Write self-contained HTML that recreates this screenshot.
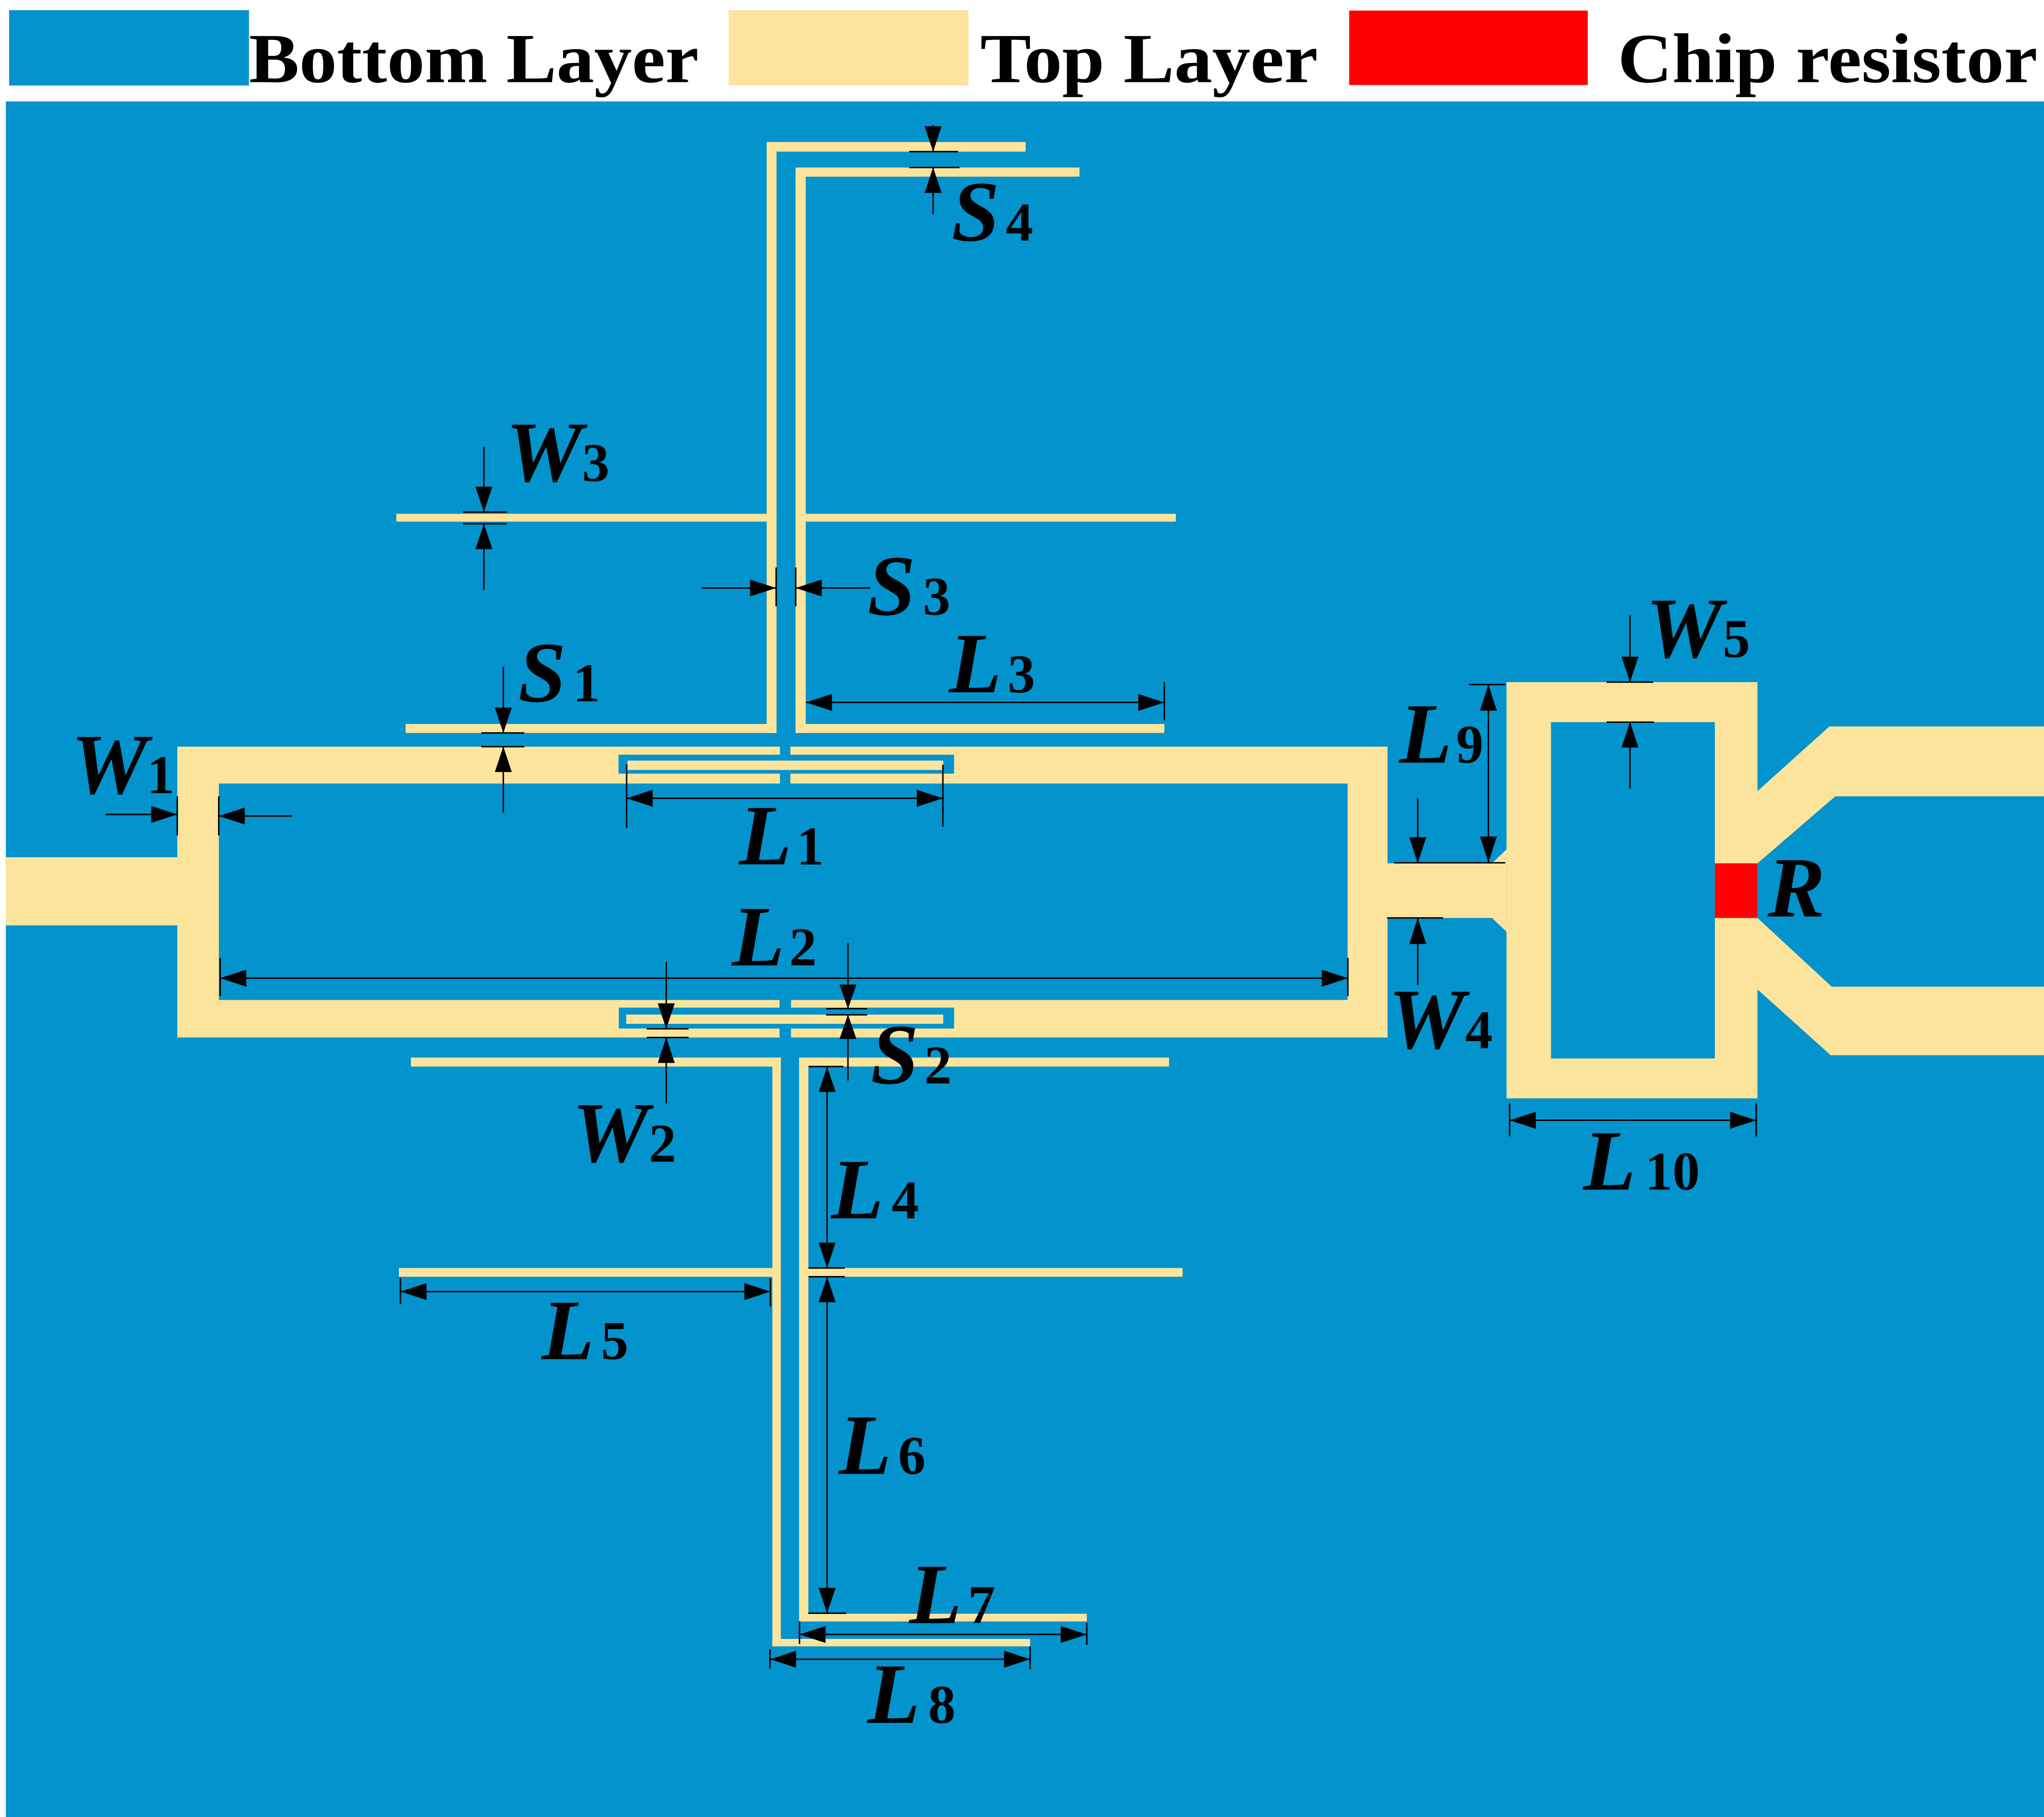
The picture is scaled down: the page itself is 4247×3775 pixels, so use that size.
<!DOCTYPE html>
<html>
<head>
<meta charset="utf-8">
<style>
  html, body { margin: 0; padding: 0; background: #ffffff; }
  svg { display: block; }
  .lbl { font-family: "Liberation Serif", "Times New Roman", serif; font-weight: bold; font-style: italic; font-size: 66px; fill: #000; }
  .sub { font-family: "Liberation Serif", "Times New Roman", serif; font-weight: bold; font-style: normal; font-size: 42px; fill: #000; }
  .leg { font-family: "Liberation Serif", "Times New Roman", serif; font-weight: bold; font-size: 54px; fill: #000; }
</style>
</head>
<body>
<svg width="4247" height="3775" viewBox="0 0 1568 1393.7" preserveAspectRatio="none" xmlns="http://www.w3.org/2000/svg">
  <!-- background -->
  <rect x="0" y="0" width="1568" height="1393.7" fill="#ffffff"/>
  <rect x="4.5" y="77.8" width="1563.5" height="1316" fill="#0393cd"/>

  <!-- legend -->
  <rect x="7" y="7.8" width="184" height="57.8" fill="#0393cd"/>
  <text class="leg" x="191" y="63" textLength="345" lengthAdjust="spacingAndGlyphs">Bottom Layer</text>
  <rect x="559" y="7.8" width="184" height="57.8" fill="#fde49c"/>
  <text class="leg" x="752" y="63" textLength="259" lengthAdjust="spacingAndGlyphs">Top Layer</text>
  <rect x="1035" y="8.1" width="183" height="57.1" fill="#ff0000"/>
  <text class="leg" x="1241" y="63" textLength="322" lengthAdjust="spacingAndGlyphs">Chip resistor</text>

  <g fill="#fde49c">
    <!-- left feed -->
    <rect x="4.5" y="657.5" width="131.5" height="52.3"/>
    <!-- main ring -->
    <rect x="136" y="572.7" width="928.4" height="223.1"/>
  </g>
  <rect x="167.9" y="601" width="865.9" height="166" fill="#0393cd"/>

  <!-- top coupled slot -->
  <rect x="474.5" y="578.9" width="257.4" height="14.5" fill="#0393cd"/>
  <rect x="598.3" y="572.7" width="8" height="28.3" fill="#0393cd"/>
  <rect x="481.4" y="583.4" width="242.2" height="7.2" fill="#fde49c"/>
  <!-- bottom coupled slot -->
  <rect x="474.7" y="772.9" width="257.2" height="16" fill="#0393cd"/>
  <rect x="598" y="767" width="8.8" height="28.8" fill="#0393cd"/>
  <rect x="480.4" y="778.2" width="243.2" height="7.1" fill="#fde49c"/>

  <g fill="#fde49c">
    <!-- top structure -->
    <rect x="588.1" y="108.9" width="7.6" height="453.3"/>
    <rect x="588.1" y="108.9" width="198.7" height="7.4"/>
    <rect x="610.3" y="128.5" width="7.8" height="433.7"/>
    <rect x="610.3" y="128.5" width="217.8" height="7"/>
    <rect x="304" y="394.1" width="291.7" height="6"/>
    <rect x="610.3" y="394.1" width="291.7" height="6"/>
    <rect x="311.2" y="555.3" width="284.5" height="6.9"/>
    <rect x="610.3" y="555.3" width="282.9" height="6.9"/>

    <!-- bottom structure -->
    <rect x="315.2" y="811.2" width="283.8" height="6.9"/>
    <rect x="613" y="811.2" width="283.8" height="6.9"/>
    <rect x="592.5" y="811.2" width="6.5" height="451.6"/>
    <rect x="613" y="811.2" width="7.1" height="432.5"/>
    <rect x="306" y="972.6" width="293" height="6.7"/>
    <rect x="613" y="972.6" width="294.2" height="6.7"/>
    <rect x="592.4" y="1257.1" width="197.8" height="5.7"/>
    <rect x="613.3" y="1237.8" width="220.4" height="5.9"/>

    <!-- right side: W4 feed and ring -->
    <rect x="1064" y="662.2" width="91.7" height="41.9"/>
    <polygon points="1144.5,662.2 1155.7,651.5 1155.7,662.2"/>
    <polygon points="1144.5,704.1 1155.7,704.1 1155.7,714.6"/>
    <rect x="1155.7" y="523.2" width="192.5" height="319.3"/>
    <!-- branches -->
    <polygon points="1348.2,606.8 1403.4,557.2 1568,557.2 1568,610.8 1407.9,610.8 1348.2,662.2"/>
    <polygon points="1348.2,704.1 1405.1,756.8 1568,756.8 1568,809.4 1404.4,809.4 1348.2,758.9"/>
  </g>
  <rect x="1189.8" y="553.9" width="125.7" height="258" fill="#0393cd"/>
  <rect x="1315.5" y="662.2" width="32.7" height="41.9" fill="#ff0000"/>

  <!-- dimension lines -->
  <g stroke="#000" stroke-width="1.1" fill="none">
    <!-- S4 -->
    <line x1="715.8" y1="96" x2="715.8" y2="116.3"/>
    <line x1="697.5" y1="116.3" x2="735" y2="116.3"/>
    <line x1="697.5" y1="128.5" x2="736" y2="128.5"/>
    <line x1="715.8" y1="128.5" x2="715.8" y2="164.3"/>
    <!-- W3 -->
    <line x1="371.2" y1="342.7" x2="371.2" y2="392.8"/>
    <line x1="355.2" y1="392.8" x2="388.9" y2="392.8"/>
    <line x1="355.2" y1="401.7" x2="388.9" y2="401.7"/>
    <line x1="371.2" y1="401.7" x2="371.2" y2="452.3"/>
    <!-- S3 -->
    <line x1="538.2" y1="451" x2="595.4" y2="451"/>
    <line x1="610.4" y1="451" x2="667.5" y2="451"/>
    <line x1="595.4" y1="435.3" x2="595.4" y2="465"/>
    <line x1="610.4" y1="435.3" x2="610.4" y2="465"/>
    <!-- S1 -->
    <line x1="386.1" y1="511.6" x2="386.1" y2="562.2"/>
    <line x1="369.2" y1="562.2" x2="402.2" y2="562.2"/>
    <line x1="369.2" y1="572.7" x2="402.2" y2="572.7"/>
    <line x1="386.1" y1="572.7" x2="386.1" y2="623.2"/>
    <!-- L3 -->
    <line x1="618.2" y1="538.8" x2="893.2" y2="538.8"/>
    <line x1="893.2" y1="523.2" x2="893.2" y2="552.4"/>
    <!-- W1 -->
    <line x1="81.1" y1="624.7" x2="136" y2="624.7"/>
    <line x1="167.8" y1="625.9" x2="224" y2="625.9"/>
    <line x1="136" y1="610.8" x2="136" y2="640.8"/>
    <line x1="167.8" y1="610.8" x2="167.8" y2="640.8"/>
    <!-- L1 -->
    <line x1="480.7" y1="612.3" x2="723.3" y2="612.3"/>
    <line x1="480.7" y1="586.5" x2="480.7" y2="635.1"/>
    <line x1="723.3" y1="586.5" x2="723.3" y2="634.2"/>
    <!-- L2 -->
    <line x1="168.9" y1="750.3" x2="1034" y2="750.3"/>
    <line x1="168.9" y1="734.7" x2="168.9" y2="764"/>
    <line x1="1034" y1="734.7" x2="1034" y2="764"/>
    <!-- W2 -->
    <line x1="511.1" y1="737.9" x2="511.1" y2="789.1"/>
    <line x1="496.2" y1="789.1" x2="528.2" y2="789.1"/>
    <line x1="496.2" y1="795.8" x2="528.2" y2="795.8"/>
    <line x1="511.1" y1="795.8" x2="511.1" y2="846.3"/>
    <!-- S2 -->
    <line x1="650.5" y1="723.4" x2="650.5" y2="773.7"/>
    <line x1="633.7" y1="773.7" x2="665.2" y2="773.7"/>
    <line x1="633.7" y1="778.4" x2="665.2" y2="778.4"/>
    <line x1="650.5" y1="778.4" x2="650.5" y2="828.8"/>
    <!-- L4 -->
    <line x1="634.5" y1="818.1" x2="634.5" y2="972.6"/>
    <line x1="620.2" y1="818.1" x2="647" y2="818.1"/>
    <line x1="620.2" y1="972.6" x2="648" y2="972.6"/>
    <!-- L6 -->
    <line x1="634.5" y1="979.3" x2="634.5" y2="1237.4"/>
    <line x1="620.2" y1="979.3" x2="648" y2="979.3"/>
    <line x1="620" y1="1237.4" x2="649" y2="1237.4"/>
    <!-- L5 -->
    <line x1="307.2" y1="990.7" x2="591" y2="990.7"/>
    <line x1="307.2" y1="980.3" x2="307.2" y2="1000.4"/>
    <line x1="591" y1="980.6" x2="591" y2="1002"/>
    <!-- L7 -->
    <line x1="613.3" y1="1253.7" x2="833.7" y2="1253.7"/>
    <line x1="613.3" y1="1243.7" x2="613.3" y2="1261"/>
    <line x1="833.7" y1="1244.8" x2="833.7" y2="1261.7"/>
    <!-- L8 -->
    <line x1="590.7" y1="1272.7" x2="790.2" y2="1272.7"/>
    <line x1="590.7" y1="1264.9" x2="590.7" y2="1279.7"/>
    <line x1="790.2" y1="1262.8" x2="790.2" y2="1280.3"/>
    <!-- W5 -->
    <line x1="1250.4" y1="472.1" x2="1250.4" y2="523.2"/>
    <line x1="1232.4" y1="523.2" x2="1268.2" y2="523.2"/>
    <line x1="1232.4" y1="553.9" x2="1268.8" y2="553.9"/>
    <line x1="1250.4" y1="553.9" x2="1250.4" y2="604.7"/>
    <!-- L9 -->
    <line x1="1141.8" y1="525.1" x2="1141.8" y2="661.6"/>
    <line x1="1126.8" y1="525.1" x2="1154.7" y2="525.1"/>
    <line x1="1069.5" y1="661.8" x2="1154.7" y2="661.8"/>
    <!-- W4 -->
    <line x1="1087.6" y1="612.3" x2="1087.6" y2="662.2"/>
    <line x1="1064" y1="704.1" x2="1107" y2="704.1"/>
    <line x1="1087.6" y1="704.1" x2="1087.6" y2="755.4"/>
    <!-- L10 -->
    <line x1="1158.1" y1="859.3" x2="1347.2" y2="859.3"/>
    <line x1="1158.1" y1="846.5" x2="1158.1" y2="871.6"/>
    <line x1="1347.2" y1="846.5" x2="1347.2" y2="871.6"/>
  </g>

  <!-- arrowheads -->
  <g fill="#000">
    <polygon points="715.8,116.3 709.3,96.8 722.3,96.8"/>
    <polygon points="715.8,128.5 709.3,148 722.3,148"/>
    <polygon points="371.2,392.8 364.7,373.3 377.7,373.3"/>
    <polygon points="371.2,401.7 364.7,421.2 377.7,421.2"/>
    <polygon points="595.4,451 575.4,444.5 575.4,457.5"/>
    <polygon points="610.4,451 630.4,444.5 630.4,457.5"/>
    <polygon points="386.1,562.2 379.6,542.7 392.6,542.7"/>
    <polygon points="386.1,572.7 379.6,592.2 392.6,592.2"/>
    <polygon points="618.2,538.8 638.2,532.3 638.2,545.3"/>
    <polygon points="893.2,538.8 873.2,532.3 873.2,545.3"/>
    <polygon points="136,624.7 116,618.2 116,631.2"/>
    <polygon points="167.8,625.9 187.8,619.4 187.8,632.4"/>
    <polygon points="480.7,612.3 500.7,605.8 500.7,618.8"/>
    <polygon points="723.3,612.3 703.3,605.8 703.3,618.8"/>
    <polygon points="168.9,750.3 188.9,743.8 188.9,756.8"/>
    <polygon points="1034,750.3 1014,743.8 1014,756.8"/>
    <polygon points="511.1,789.1 504.6,769.6 517.6,769.6"/>
    <polygon points="511.1,795.8 504.6,815.3 517.6,815.3"/>
    <polygon points="650.5,773.7 644,755.2 657,755.2"/>
    <polygon points="650.5,778.4 644,796.9 657,796.9"/>
    <polygon points="634.5,818.1 628,837.6 641,837.6"/>
    <polygon points="634.5,972.6 628,953.1 641,953.1"/>
    <polygon points="634.5,979.3 628,998.8 641,998.8"/>
    <polygon points="634.5,1237.4 628,1217.9 641,1217.9"/>
    <polygon points="307.2,990.7 327.2,984.2 327.2,997.2"/>
    <polygon points="591,990.7 571,984.2 571,997.2"/>
    <polygon points="613.3,1253.7 633.3,1247.2 633.3,1260.2"/>
    <polygon points="833.7,1253.7 813.7,1247.2 813.7,1260.2"/>
    <polygon points="590.7,1272.7 610.7,1266.2 610.7,1279.2"/>
    <polygon points="790.2,1272.7 770.2,1266.2 770.2,1279.2"/>
    <polygon points="1250.4,523.2 1243.9,503.7 1256.9,503.7"/>
    <polygon points="1250.4,553.9 1243.9,573.4 1256.9,573.4"/>
    <polygon points="1141.8,525.1 1135.3,545.1 1148.3,545.1"/>
    <polygon points="1141.8,661.6 1135.3,641.6 1148.3,641.6"/>
    <polygon points="1087.6,662.2 1081.1,642.2 1094.1,642.2"/>
    <polygon points="1087.6,704.1 1081.1,724.1 1094.1,724.1"/>
    <polygon points="1158.1,859.3 1178.1,852.8 1178.1,865.8"/>
    <polygon points="1347.2,859.3 1327.2,852.8 1327.2,865.8"/>
  </g>

  <!-- labels -->
  <text class="lbl" x="730" y="184.5">S</text><text class="sub" x="771.5" y="184.5">4</text>
  <text class="lbl" x="388" y="369">W</text><text class="sub" x="446.5" y="369">3</text>
  <text class="lbl" x="665.5" y="471.5">S</text><text class="sub" x="708" y="471.5">3</text>
  <text class="lbl" x="397.5" y="538">S</text><text class="sub" x="439.5" y="538">1</text>
  <text class="lbl" x="728" y="531">L</text><text class="sub" x="773" y="531">3</text>
  <text class="lbl" x="54.5" y="608.5">W</text><text class="sub" x="112.8" y="608.5">1</text>
  <text class="lbl" x="567" y="663">L</text><text class="sub" x="611" y="663">1</text>
  <text class="lbl" x="561.5" y="740.5">L</text><text class="sub" x="605.5" y="740.5">2</text>
  <text class="lbl" x="439" y="891">W</text><text class="sub" x="497.7" y="891">2</text>
  <text class="lbl" x="668" y="831">S</text><text class="sub" x="709" y="831">2</text>
  <text class="lbl" x="637.5" y="934.5">L</text><text class="sub" x="684" y="934.5">4</text>
  <text class="lbl" x="415.5" y="1042.5">L</text><text class="sub" x="461" y="1042.5">5</text>
  <text class="lbl" x="643.5" y="1130.5">L</text><text class="sub" x="689" y="1130.5">6</text>
  <text class="lbl" x="697.5" y="1245">L</text><text class="sub" x="742.5" y="1245">7</text>
  <text class="lbl" x="665.5" y="1321.5">L</text><text class="sub" x="712" y="1321.5">8</text>
  <text class="lbl" x="1073.5" y="585">L</text><text class="sub" x="1117" y="585">9</text>
  <text class="lbl" x="1065" y="804">W</text><text class="sub" x="1124" y="804">4</text>
  <text class="lbl" x="1262.5" y="504">W</text><text class="sub" x="1321.5" y="504">5</text>
  <text class="lbl" x="1214.5" y="912.5">L</text><text class="sub" x="1262" y="912.5">10</text>
  <text class="lbl" x="1356" y="703">R</text>
</svg>
</body>
</html>
